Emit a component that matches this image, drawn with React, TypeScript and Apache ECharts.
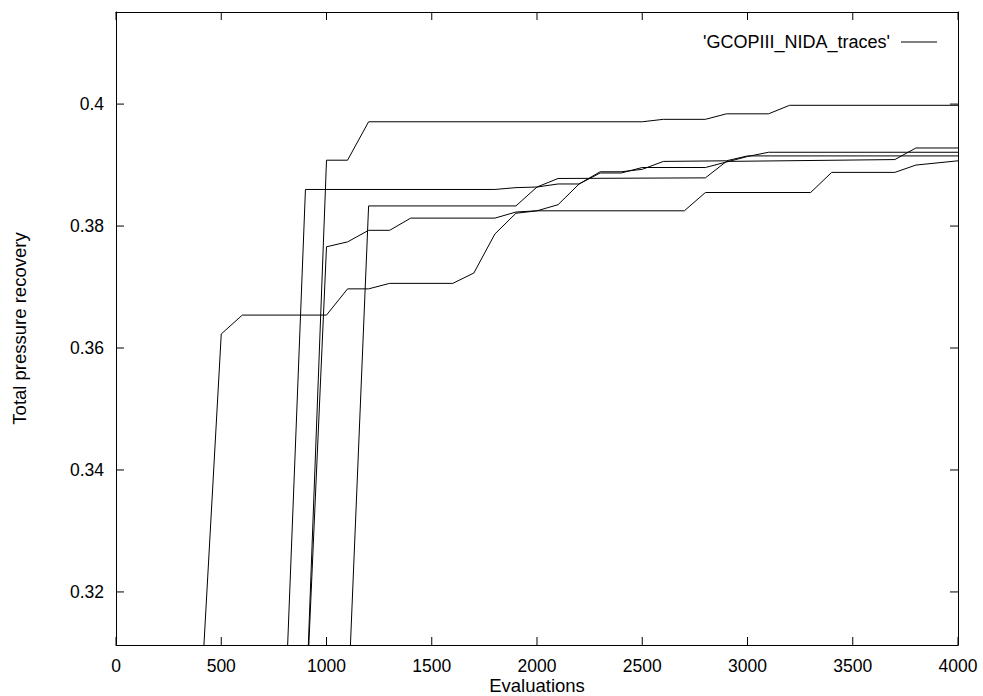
import React, { useEffect, useRef } from "react";
import * as echarts from "echarts";

const seriesName = "'GCOPIII_NIDA_traces'";

const xTicks = [0, 500, 1000, 1500, 2000, 2500, 3000, 3500, 4000];
const yTicks = [0.32, 0.34, 0.36, 0.38, 0.4];

const traceA_x = [900, 1000, 1100, 1200, 2500, 2600, 2800, 2900, 3100, 3200, 4000];
const traceA_y = [0.2987, 0.3908, 0.3908, 0.3971, 0.3971, 0.3975, 0.3975, 0.3984, 0.3984, 0.3998, 0.3998];

const traceB_x = [800, 900, 1800, 1900, 2000, 2100, 2800, 2900, 3700, 3800, 4000];
const traceB_y = [0.2977, 0.386, 0.386, 0.3863, 0.3864, 0.3878, 0.3879, 0.3906, 0.3909, 0.3928, 0.3928];

const traceC_x = [900, 1000, 1100, 1200, 1300, 1400, 1800, 1900, 2000, 2100, 2200, 2300, 2400, 2500, 2600, 2900, 3000, 4000];
const traceC_y = [0.2989, 0.3766, 0.3774, 0.3793, 0.3793, 0.3813, 0.3813, 0.3823, 0.3825, 0.3835, 0.3869, 0.3889, 0.3889, 0.3893, 0.3906, 0.3907, 0.3915, 0.3915];

const traceD_x = [1100, 1200, 1900, 2000, 2100, 2200, 2300, 2400, 2500, 2800, 2900, 3000, 3100, 4000];
const traceD_y = [0.2999, 0.3833, 0.3833, 0.3864, 0.3869, 0.3869, 0.3887, 0.3887, 0.3896, 0.3896, 0.3905, 0.3914, 0.3921, 0.3921];

const traceE_x = [400, 500, 600, 1000, 1100, 1200, 1300, 1600, 1700, 1800, 1900, 2000, 2700, 2800, 3300, 3400, 3700, 3800, 4000];
const traceE_y = [0.3003, 0.3623, 0.3654, 0.3654, 0.3697, 0.3697, 0.3706, 0.3706, 0.3723, 0.3787, 0.3821, 0.3825, 0.3825, 0.3855, 0.3855, 0.3888, 0.3888, 0.39, 0.3907];

const traces = [
  [traceA_x, traceA_y],
  [traceB_x, traceB_y],
  [traceC_x, traceC_y],
  [traceD_x, traceD_y],
  [traceE_x, traceE_y],
];

const FONT = "Liberation Sans, Arial, Helvetica, sans-serif";
const X_MIN = 0;
const X_MAX = 4000;
const Y_MIN = 0.3113;
const Y_MAX = 0.4151;
const TICK_LEN = 8;

export default function App() {
  const ref = useRef<HTMLDivElement>(null);

  useEffect(() => {
    if (!ref.current) return;
    const chart = echarts.init(ref.current, null, { renderer: "svg" });
    const axisLine = { show: true, onZero: false, lineStyle: { color: "#000", width: 1 } };
    const label = { color: "#000", fontFamily: FONT, fontSize: 17.5, lineHeight: 16 };
    const nameStyle = { color: "#000", fontFamily: FONT, fontSize: 18.5, lineHeight: 17 };
    const yFmt = (v: number) => String(parseFloat(Number(v).toFixed(2)));
    const xFmt = (v: number) => String(Math.round(Number(v)));
    const tickStyle = { stroke: "#000", lineWidth: 1 };

    const xTickSeries = {
      type: "custom",
      name: "xTicks",
      silent: true,
      clip: false,
      z: 5,
      data: xTicks.map((v) => [v, Y_MIN]),
      renderItem: (_p: any, api: any) => {
        const v = api.value(0);
        const b = api.coord([v, Y_MIN]);
        const t = api.coord([v, Y_MAX]);
        return {
          type: "group",
          children: [
            { type: "line", shape: { x1: b[0], y1: b[1], x2: b[0], y2: b[1] - TICK_LEN }, style: tickStyle },
            { type: "line", shape: { x1: t[0], y1: t[1], x2: t[0], y2: t[1] + TICK_LEN }, style: tickStyle },
          ],
        };
      },
    };
    const yTickSeries = {
      type: "custom",
      name: "yTicks",
      silent: true,
      clip: false,
      z: 5,
      data: yTicks.map((v) => [X_MIN, v]),
      renderItem: (_p: any, api: any) => {
        const v = api.value(1);
        const l = api.coord([X_MIN, v]);
        const r = api.coord([X_MAX, v]);
        return {
          type: "group",
          children: [
            { type: "line", shape: { x1: l[0], y1: l[1], x2: l[0] + TICK_LEN, y2: l[1] }, style: tickStyle },
            { type: "line", shape: { x1: r[0], y1: r[1], x2: r[0] - TICK_LEN, y2: r[1] }, style: tickStyle },
          ],
        };
      },
    };

    chart.setOption({
      animation: false,
      backgroundColor: "#fff",
      grid: { left: 116, right: 25, top: 12, bottom: 51, containLabel: false, outerBoundsMode: "none" },
      legend: {
        data: [{ name: seriesName }],
        right: 41,
        top: 28,
        align: "right",
        selectedMode: false,
        icon: "path://M0 0H36V1H0Z",
        itemWidth: 36,
        itemHeight: 1,
        textStyle: { color: "#000", fontFamily: FONT, fontSize: 18, padding: [0, 6, 0, 0] },
        itemStyle: { color: "#000" },
      },
      xAxis: [
        {
          type: "value",
          min: X_MIN,
          max: X_MAX,
          interval: 500,
          position: "bottom",
          name: "Evaluations",
          nameLocation: "middle",
          nameGap: 32,
          nameMoveOverlap: false,
          nameTextStyle: nameStyle,
          axisLine,
          axisTick: { show: false },
          axisLabel: { ...label, margin: 13, formatter: xFmt },
          splitLine: { show: false },
        },
        {
          type: "value",
          min: X_MIN,
          max: X_MAX,
          interval: 500,
          position: "top",
          axisLine,
          axisTick: { show: false },
          axisLabel: { show: false },
          splitLine: { show: false },
        },
      ],
      yAxis: [
        {
          type: "value",
          min: Y_MIN,
          max: Y_MAX,
          position: "left",
          name: "Total pressure recovery",
          nameLocation: "middle",
          nameGap: 88,
          nameMoveOverlap: false,
          nameRotate: 90,
          nameTextStyle: nameStyle,
          axisLine,
          axisTick: { show: false },
          axisLabel: { ...label, margin: 12, customValues: yTicks, formatter: yFmt },
          splitLine: { show: false },
        },
        {
          type: "value",
          min: Y_MIN,
          max: Y_MAX,
          position: "right",
          axisLine,
          axisTick: { show: false },
          axisLabel: { show: false },
          splitLine: { show: false },
        },
      ],
      series: [
        ...traces.map(([xs, ys]) => ({
          name: seriesName,
          type: "line",
          xAxisIndex: 0,
          yAxisIndex: 0,
          data: xs.map((x, i) => [x, ys[i]]),
          showSymbol: false,
          symbol: "none",
          clip: true,
          lineStyle: { color: "#000", width: 1 },
          itemStyle: { color: "#000" },
          emphasis: { disabled: true },
        })),
        xTickSeries,
        yTickSeries,
      ],
    });
    return () => chart.dispose();
  }, []);

  return (
    <div
      ref={ref}
      style={{ position: "fixed", left: 0, top: 0, width: 983, height: 696, background: "#fff" }}
    />
  );
}
